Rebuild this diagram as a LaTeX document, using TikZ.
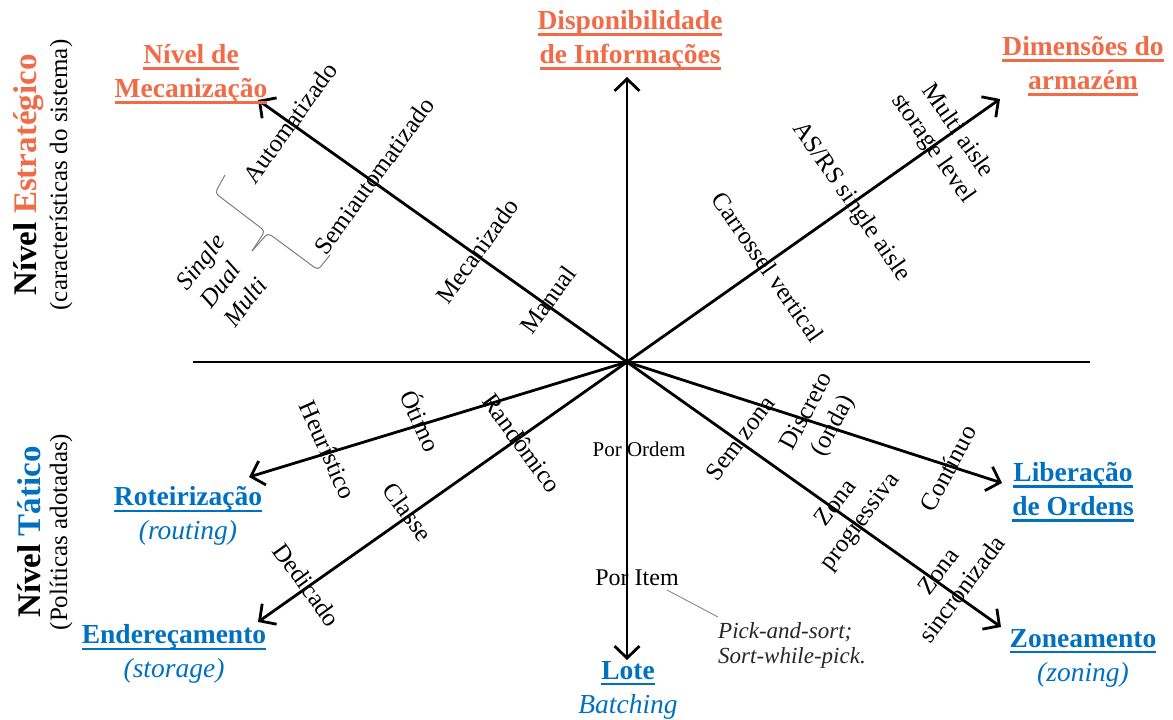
\documentclass[tikz,border=0pt]{standalone}
\usepackage{fontspec}
\setmainfont{Liberation Serif}
\newcommand\myul[1]{\leavevmode\setbox0=\hbox{#1}\rlap{\vrule width\wd0 height -4pt depth 6.2pt}\box0}
\usetikzlibrary{arrows.meta}
\definecolor{orng}{RGB}{240,108,72}
\definecolor{blu}{RGB}{0,112,192}
\definecolor{brgray}{RGB}{125,125,125}
\tikzset{
  axisline/.style={line width=2.8pt},
  axisarrow/.style={line width=2.8pt, -{Straight Barb[length=12pt,width=25pt]}},
  ttl/.style={font=\fontsize{27.5}{34}\selectfont\bfseries, align=center, inner sep=0pt},
  otitle/.style={ttl, text=orng},
  btitle/.style={ttl, text=blu},
  lbl/.style={font=\fontsize{25}{30}\selectfont, align=center, inner sep=0pt},
  ilbl/.style={font=\fontsize{25}{30}\selectfont\itshape, align=left, inner sep=0pt},
  brc/.style={draw=brgray, line width=1pt, rounded corners=4pt},
}
\begin{document}
\begin{tikzpicture}[x=1pt,y=-1pt]
\useasboundingbox (0,0) rectangle (1173,720);
% axis geometry
\coordinate (O) at (627,362);
\coordinate (hl) at (193,362);
\coordinate (hr) at (1090,362);
\coordinate (tUp) at (627,77);
\coordinate (tDown) at (627,660);
\coordinate (tMec) at (258,100);
\coordinate (tDim) at (1000,99);
\coordinate (tRot) at (249,477);
\coordinate (tEnd) at (258,622);
\coordinate (tLib) at (1002,483);
\coordinate (tZon) at (1001,627);
\draw[axisline] (hl) -- (hr);
\draw[axisarrow] (O) -- (tUp);
\draw[axisarrow] (O) -- (tDown);
\draw[axisarrow] (O) -- (tMec);
\draw[axisarrow] (O) -- (tDim);
\draw[axisarrow] (O) -- (tRot);
\draw[axisarrow] (O) -- (tEnd);
\draw[axisarrow] (O) -- (tLib);
\draw[axisarrow] (O) -- (tZon);
% side titles
\node[rotate=90, inner sep=0pt, font=\fontsize{33}{38}\selectfont\bfseries] (nivE) at (29,175) {Nível \textcolor{orng}{Estratégico}};
\node[rotate=90, inner sep=0pt, font=\fontsize{25}{30}\selectfont] (carac) at (61,175) {(características do sistema)};
\node[rotate=90, inner sep=0pt, font=\fontsize{33}{38}\selectfont\bfseries] (nivT) at (29,532) {Nível \textcolor{blu}{Tático}};
\node[rotate=90, inner sep=0pt, font=\fontsize{25}{30}\selectfont] (polit) at (61,532) {(Políticas adotadas)};
% axis titles
\node[otitle] (disp) at (630,40) {\myul{Disponibilidade}\\\myul{de Informações}};
\node[otitle] (mecan) at (191,74) {\myul{Nível de}\\\myul{Mecanização}};
\node[otitle] (dimen) at (1083,66) {\myul{Dimensões do}\\\myul{armazém}};
\node[btitle] (roteir) at (188,516) {\myul{Roteirização}\\{\mdseries\itshape (routing)}};
\node[btitle] (enderec) at (174,654) {\myul{Endereçamento}\\{\mdseries\itshape (storage)}};
\node[btitle] (lote) at (628,690) {\myul{Lote}\\{\mdseries\itshape Batching}};
\node[btitle] (liber) at (1073,492) {\myul{Liberação}\\\myul{de Ordens}};
\node[btitle] (zonea) at (1083,658) {\myul{Zoneamento}\\{\mdseries\itshape (zoning)}};
% labels on mecanizacao axis
\node[lbl, rotate=54] (automat) at (290,123) {Automatizado};
\node[lbl, rotate=54] (semiaut) at (374,176) {Semiautomatizado};
\node[lbl, rotate=54] (mecaniz) at (477,251) {Mecanizado};
\node[lbl, rotate=54] (manual) at (548,300) {Manual};
% labels on dimensoes axis
\node[lbl, rotate=-55] (carros) at (768,267) {Carrossel vertical};
\node[lbl, rotate=-55] (asrs) at (851,202) {AS/RS single aisle};
\node[lbl, rotate=-55] (multi) at (945,140) {Multi aisle\\storage level};
% brace and single/dual/multi
\draw[brc] (225,175) -- (215,193) -- (265,231) -- (252,251);
\draw[brc] (252,251) -- (268,233) -- (318,270) -- (330,255);
\node[ilbl, rotate=52] (sdm) at (224,280) {Single\\Dual\\Multi};
% labels on roteirizacao axis
\node[lbl, rotate=-66] (heur) at (328,450) {Heurístico};
\node[lbl, rotate=-66] (otimo) at (422,420) {Ótimo};
% labels on enderecamento axis
\node[lbl, rotate=-54] (random) at (522,443) {Randômico};
\node[lbl, rotate=-54] (classe) at (408,512) {Classe};
\node[lbl, rotate=-54] (dedic) at (307,585) {Dedicado};
% labels on lote axis
\node[inner sep=0pt, font=\fontsize{21}{25}\selectfont] (porord) at (639,449) {Por Ordem};
\node[inner sep=0pt, font=\fontsize{24}{28}\selectfont] (poritem) at (637,578) {Por Item};
\node[inner sep=0pt, anchor=west, align=left, font=\fontsize{23}{25}\selectfont\itshape, text=black!85] (note) at (718,645) {Pick-and-sort;\\Sort-while-pick.};
\coordinate (ldA) at (667,590);
\coordinate (ldB) at (718,617);
\draw[brgray, line width=0.8pt] (ldA) -- (ldB);
% labels on liberacao axis
\node[lbl, rotate=62] (discr) at (821,419) {Discreto\\(onda)};
\node[lbl, rotate=62] (contin) at (948,468) {Contínuo};
% labels on zoneamento axis
\node[lbl, rotate=53] (semzona) at (740,438) {Sem zona};
\node[lbl, rotate=53] (zprog) at (849,513) {Zona\\progressiva};
\node[lbl, rotate=53] (zsinc) at (950,580) {Zona\\sincronizada};
\end{tikzpicture}
\end{document}
